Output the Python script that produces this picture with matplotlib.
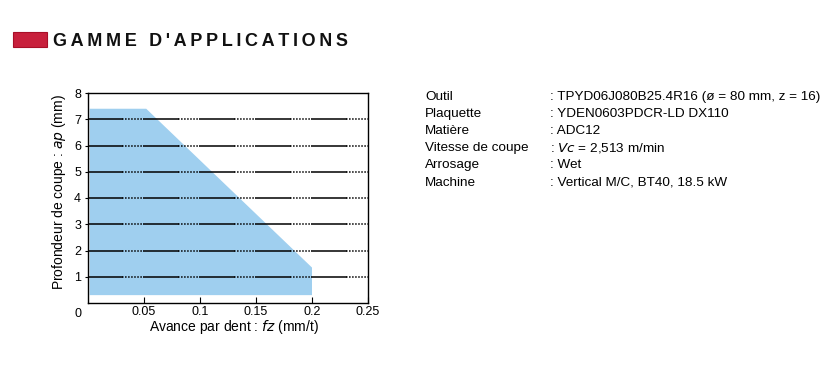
import numpy as np
import matplotlib.pyplot as plt
import matplotlib.patches as patches

plt.rcParams['font.family'] = ['Liberation Sans', 'DejaVu Sans']

# Application range (feed per tooth vs depth of cut)
fz = [0.0015, 0.0015, 0.052, 0.2, 0.2]
ap = [0.3, 7.4, 7.4, 1.35, 0.3]

x_ticks = [0.05, 0.1, 0.15, 0.2, 0.25]
x_tick_labels = ['0.05', '0.1', '0.15', '0.2', '0.25']
y_ticks = [1, 2, 3, 4, 5, 6, 7, 8]

info_labels = ['Outil', 'Plaquette', 'Matière', 'Vitesse de coupe', 'Arrosage', 'Machine']
info_values = [': TPYD06J080B25.4R16 (ø = 80 mm, z = 16)',
               ': YDEN0603PDCR-LD DX110',
               ': ADC12',
               r': $\it{Vc}$ = 2,513 m/min',
               ': Wet',
               ': Vertical M/C, BT40, 18.5 kW']

fig = plt.figure(figsize=(8.4, 3.8), dpi=100)

# header
fig.patches.append(patches.Rectangle((13 / 840, 1 - 47 / 380), 34 / 840, 15 / 380,
                                     transform=fig.transFigure, facecolor='#c8203c',
                                     edgecolor='#a80f28', linewidth=0.8))
fig.text(53 / 840, 1 - 46 / 380, '\u2009'.join("GAMME D'APPLICATIONS"),
         fontsize=13, fontweight='bold', color='#111111', va='baseline')

ax = fig.add_axes([88 / 840, 1 - 303 / 380, 280 / 840, 210 / 380])
ax.fill(fz, ap, color='#9fcfef', linewidth=0, zorder=1)

# grid: solid then dotted over each 0.05 step
for y in y_ticks[:-1]:
    for k in range(5):
        x0 = k * 0.05
        ax.plot([x0, x0 + 0.03], [y, y], color='black', lw=1.1, zorder=2)
        ax.plot([x0 + 0.03, x0 + 0.05], [y, y], color='black', lw=1.1,
                linestyle=(0, (1, 1)), zorder=2)

ax.set_xlim(0, 0.25)
ax.set_ylim(0, 8)
ax.set_xticks(x_ticks)
ax.set_xticklabels(x_tick_labels)
ax.set_yticks(y_ticks)
ax.tick_params(axis='x', direction='in', length=4, labelsize=9, pad=2)
ax.tick_params(axis='y', direction='out', length=2, labelsize=9, pad=3)
for s in ax.spines.values():
    s.set_linewidth(1.0)
ax.text(-0.035, -0.025, '0', transform=ax.transAxes, fontsize=9, ha='center', va='top')
ax.set_xlabel(r'Avance par dent : $\it{fz}$ (mm/t)', fontsize=10)
ax.set_ylabel(r'Profondeur de coupe : $\it{ap}$ (mm)', fontsize=10)
ax.xaxis.set_label_coords(0.52, -0.07)
ax.yaxis.set_label_coords(-0.07, 0.53)

for i, (lab, val) in enumerate(zip(info_labels, info_values)):
    yy = 1 - (100 + i * 17.1) / 380
    fig.text(425 / 840, yy, lab, fontsize=9.7, va='baseline')
    fig.text(550 / 840, yy, val, fontsize=9.7, va='baseline')

fig.savefig('out.png', dpi=100)
